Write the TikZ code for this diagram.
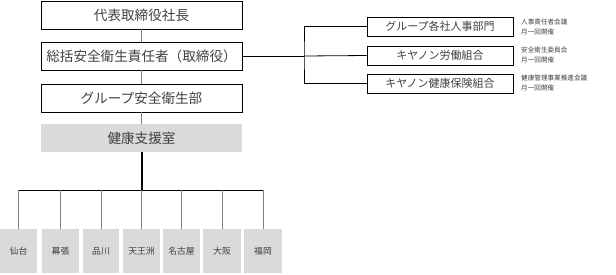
\documentclass[tikz,border=0pt]{standalone}
\usepackage{fontspec}
\newfontfamily\jp{Noto Sans CJK JP}
\definecolor{boxgray}{HTML}{DADADA}
\definecolor{txt}{HTML}{404040}
\begin{document}
\begin{tikzpicture}[x=1pt,y=-1pt,
  topbox/.style={draw=black,line width=0.8pt,minimum width=201pt,minimum height=28pt,inner sep=0pt,font=\jp\fontsize{13.6}{13.6}\selectfont,text=txt},
  graybox/.style={fill=boxgray,minimum width=201pt,minimum height=28pt,inner sep=0pt,font=\jp\fontsize{13.6}{13.6}\selectfont,text=txt},
  sitebox/.style={fill=boxgray,minimum height=44pt,inner sep=0pt,font=\jp\fontsize{8.8}{8.8}\selectfont,text=txt},
  rbox/.style={draw=black,line width=0.8pt,minimum width=146pt,minimum height=19pt,inner sep=0pt,font=\jp\fontsize{11}{11}\selectfont,text=txt},
  note/.style={anchor=north west,inner sep=0pt,align=left,font=\jp\fontsize{6.6}{10}\selectfont,text=txt},
  gline/.style={draw=gray,line width=0.9pt},
  bline/.style={draw=black,line width=0.8pt}]
\useasboundingbox (0,0) rectangle (616,274);
\node[topbox] (b1) at (141.5,15) {代表取締役社長};
\node[topbox] (b2) at (141.5,56) {総括安全衛生責任者（取締役）};
\node[topbox] (b3) at (141.5,98) {グループ安全衛生部};
\node[graybox] (b4) at (141.5,138) {健康支援室};
\draw[gline] (b1) -- (b2);
\draw[gline] (b2) -- (b3);
\draw[gline] (b3) -- (b4);
% right side
\node[rbox] (ra) at (440,26.5) {グループ各社人事部門};
\node[rbox] (rb) at (440,55.5) {キヤノン労働組合};
\node[rbox] (rc) at (440,83.5) {キヤノン健康保険組合};
\coordinate (br) at (304,56);
\draw[bline] (b2.east) -- (br);
\draw[bline] (ra.west) -| (br) |- (rc.west);
\draw[bline] (br) -- (rb.west);
\node[note] (na) at (521,19) {人事責任者会議\\月一回開催};
\node[note] (nb) at (521,47) {安全衛生委員会\\月一回開催};
\node[note] (nc) at (521,75) {健康管理事業推進会議\\月一回開催};
% sites
\node[sitebox,minimum width=37pt] (d1) at (18.5,251) {仙台};
\node[sitebox,minimum width=37pt] (d2) at (60.5,251) {幕張};
\node[sitebox,minimum width=36pt] (d3) at (101,251) {品川};
\node[sitebox,minimum width=37pt] (d4) at (141.5,251) {天王洲};
\node[sitebox,minimum width=37pt] (d5) at (181.5,251) {名古屋};
\node[sitebox,minimum width=38pt] (d6) at (222,251) {大阪};
\node[sitebox,minimum width=38pt] (d7) at (263,251) {福岡};
\coordinate (bus) at (141.5,190);
\draw[draw=black,line width=2pt] (b4.south) -- (bus);
\draw[bline] (d1.north |- bus) -- (d7.north |- bus);
\foreach \d in {d1,d2,d3,d4,d5,d6,d7}{
  \draw[gline] (\d.north |- bus) -- (\d.north);
}
\end{tikzpicture}
\end{document}
